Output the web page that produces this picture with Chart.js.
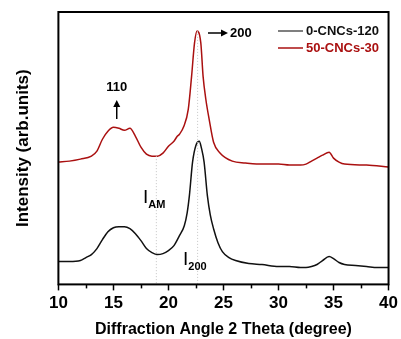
<!DOCTYPE html>
<html>
<head>
<meta charset="utf-8">
<script src="https://cdn.jsdelivr.net/npm/chart.js@4"></script>
<style>
  html, body { margin: 0; padding: 0; background: #fff; }
  #wrap { width: 401px; height: 339px; }
</style>
</head>
<body>
<div id="wrap"><canvas id="xrd" width="401" height="339"></canvas></div>
<script>
// ── Data ──

const seriesNames = ['0-CNCs-120', '50-CNCs-30']

const blackAngle = [10, 11, 12, 12.5, 13, 13.5, 14, 14.5, 15, 15.5, 16, 16.5, 17, 17.5, 18, 18.5, 19, 19.5, 20, 20.5, 21, 21.44, 21.7, 21.9, 22.19, 22.5, 22.8, 23.0, 23.24, 23.54, 23.8, 24.1, 24.5, 24.9, 25.5, 26.1, 27.3, 28.5, 30, 31, 32, 32.5, 33, 33.5, 34, 34.6, 35, 35.5, 36, 37, 38, 39, 40]
const blackIntensity = [23, 23, 24, 27, 30, 36, 45, 53, 57, 58, 58, 56, 51, 44, 36, 32, 30, 31, 34, 39, 49, 59, 72, 89, 123, 140, 144, 137, 123, 89, 70, 56, 42, 33, 27, 24, 21, 20, 18, 18, 17, 17, 18, 20, 24, 28, 26, 22, 20, 19, 18, 17, 17]

const redAngle = [10, 11, 12, 13, 13.5, 14, 14.5, 15, 15.5, 16, 16.5, 17, 17.5, 18, 18.5, 19, 19.5, 20, 20.5, 20.8, 21, 21.4, 21.8, 22.1, 22.37, 22.6, 22.94, 23.15, 23.4, 23.7, 24.1, 24.7, 25.8, 27, 28, 29, 30, 31, 32, 32.5, 33, 33.5, 34, 34.6, 35, 35.5, 36, 38, 40]
const redIntensity = [123, 124, 126, 129, 134, 146, 154, 158, 157, 155, 157, 149, 138, 131, 129, 129, 132, 139, 144, 149, 151, 159, 176, 209, 243, 255, 243, 209, 186, 166, 143, 132, 124, 122, 121, 121, 121, 120, 120, 121, 124, 127, 130, 133, 127, 123, 121, 120, 118]

// dotted guides: I_AM at the amorphous minimum, I_200 at the 200 peak
const guideAngle = [18.9, 22.65]
const guideTop = [129, 255]

const xTicks = [10, 15, 20, 25, 30, 35, 40]
const xMinorTicks = [12.5, 17.5, 22.5, 27.5, 32.5, 37.5]

const COLORS = {
  black: '#111111',
  red: '#aa1010',
  legendBlack: '#555555',
  guide: '#c4c4c4',
}

const FONT = '"Liberation Sans", Arial, sans-serif'

const toPoints = (xs, ys) => xs.map((x, i) => ({ x, y: ys[i] }))

// ── Plugins ──

const frameAndMinor = {
  id: 'frameAndMinor',
  afterDraw(chart) {
    const { ctx, chartArea: a, scales: { x } } = chart
    ctx.save()
    ctx.strokeStyle = '#000'
    ctx.lineWidth = 2
    ctx.strokeRect(a.left, a.top, a.right - a.left, a.bottom - a.top)
    ctx.lineWidth = 1.5
    xMinorTicks.forEach(v => {
      const px = Math.round(x.getPixelForValue(v)) + 0.5
      ctx.beginPath()
      ctx.moveTo(px, a.bottom)
      ctx.lineTo(px, a.bottom + 4)
      ctx.stroke()
    })
    ctx.restore()
  },
}

function arrow(ctx, x1, y1, x2, y2) {
  const ang = Math.atan2(y2 - y1, x2 - x1)
  ctx.beginPath()
  ctx.moveTo(x1, y1)
  ctx.lineTo(x2 - 5 * Math.cos(ang), y2 - 5 * Math.sin(ang))
  ctx.stroke()
  ctx.beginPath()
  ctx.moveTo(x2, y2)
  ctx.lineTo(x2 - 7 * Math.cos(ang) + 3.5 * Math.sin(ang), y2 - 7 * Math.sin(ang) - 3.5 * Math.cos(ang))
  ctx.lineTo(x2 - 7 * Math.cos(ang) - 3.5 * Math.sin(ang), y2 - 7 * Math.sin(ang) + 3.5 * Math.cos(ang))
  ctx.closePath()
  ctx.fill()
}

const annotations = {
  id: 'annotations',
  afterDatasetsDraw(chart) {
    const { ctx, scales: { x } } = chart
    ctx.save()
    ctx.fillStyle = '#000'
    ctx.strokeStyle = '#000'
    ctx.lineWidth = 1.5
    ctx.textBaseline = 'middle'

    // 110 with up arrow
    const x110 = x.getPixelForValue(15.3)
    ctx.font = `bold 13px ${FONT}`
    ctx.textAlign = 'center'
    ctx.fillText('110', x110, 87)
    arrow(ctx, x110, 119, x110, 100)

    // -> 200
    ctx.textAlign = 'left'
    arrow(ctx, 208, 33, 228, 33)
    ctx.fillText('200', 230, 33)

    // I_AM and I_200 labels
    const sub = (main, subText, px, py) => {
      ctx.font = `19px ${FONT}`
      ctx.textAlign = 'left'
      ctx.fillText(main, px, py)
      const w = ctx.measureText(main).width
      ctx.font = `bold 11px ${FONT}`
      ctx.fillText(subText, px + w, py + 7)
    }
    sub('I', 'AM', 143, 198)
    sub('I', '200', 183, 260)

    // legend
    ctx.font = `bold 13px ${FONT}`
    const legendRows = [
      { label: seriesNames[0], line: COLORS.legendBlack, text: '#111', y: 31 },
      { label: seriesNames[1], line: COLORS.red, text: COLORS.red, y: 48 },
    ]
    legendRows.forEach(r => {
      ctx.strokeStyle = r.line
      ctx.lineWidth = 1.5
      ctx.beginPath()
      ctx.moveTo(278, r.y)
      ctx.lineTo(303, r.y)
      ctx.stroke()
      ctx.fillStyle = r.text
      ctx.fillText(r.label, 306, r.y)
    })
    ctx.restore()
  },
}

// ── Chart ──

const guideSets = guideAngle.map((g, i) => ({
  label: 'guide' + i,
  data: [{ x: g, y: guideTop[i] }, { x: g, y: 0 }],
  borderColor: COLORS.guide,
  borderWidth: 1,
  borderDash: [1, 2],
  pointRadius: 0,
  tension: 0,
}))

new Chart(document.getElementById('xrd'), {
  type: 'line',
  data: {
    datasets: [
      ...guideSets,
      {
        label: seriesNames[0],
        data: toPoints(blackAngle, blackIntensity),
        borderColor: COLORS.black,
        borderWidth: 1.5,
        pointRadius: 0,
        cubicInterpolationMode: 'monotone',
      },
      {
        label: seriesNames[1],
        data: toPoints(redAngle, redIntensity),
        borderColor: COLORS.red,
        borderWidth: 1.5,
        pointRadius: 0,
        cubicInterpolationMode: 'monotone',
      },
    ],
  },
  options: {
    responsive: false,
    animation: false,
    layout: { padding: { left: 9, right: 10, top: 12, bottom: 0 } },
    plugins: { legend: { display: false }, tooltip: { enabled: false } },
    scales: {
      x: {
        type: 'linear',
        min: 10,
        max: 40,
        afterBuildTicks: s => { s.ticks = xTicks.map(v => ({ value: v })) },
        grid: { drawOnChartArea: false, tickLength: 6, tickColor: '#000', tickWidth: 1.5 },
        border: { display: false },
        ticks: {
          color: '#000',
          padding: 3,
          maxRotation: 0,
          font: { family: FONT, size: 17, weight: 'bold' },
        },
        title: {
          display: true,
          text: 'Diffraction Angle 2 Theta (degree)',
          color: '#000',
          padding: { top: 3, bottom: 0 },
          font: { family: FONT, size: 16, weight: 'bold' },
        },
      },
      y: {
        min: 0,
        max: 274,
        grid: { display: false },
        border: { display: false },
        ticks: { display: false },
        title: {
          display: true,
          text: 'Intensity (arb.units)',
          color: '#000',
          padding: { top: 4, bottom: 17 },
          font: { family: FONT, size: 17, weight: 'bold' },
        },
      },
    },
  },
  plugins: [frameAndMinor, annotations],
})
</script>
</body>
</html>
